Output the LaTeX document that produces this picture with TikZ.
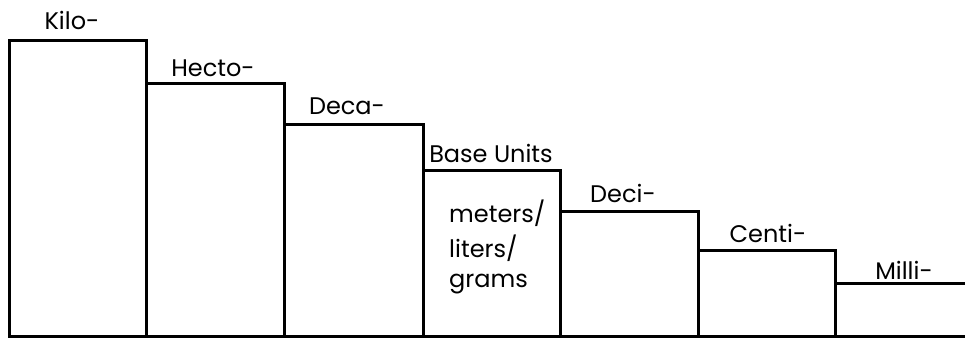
\documentclass[tikz,border=0pt]{standalone}
\usepackage{fontspec}
\setmainfont{Poppins}
\begin{document}
\begin{tikzpicture}[x=1pt,y=1pt,
  stepbox/.style={draw=black,line width=3pt,inner sep=0pt,outer sep=0pt,anchor=south west},
  lbl/.style={font=\fontsize{24}{33}\selectfont,anchor=base,inner sep=0pt}]
\useasboundingbox[fill=white] (0,0) rectangle (965,339);
% boxes: x positions 9,146,284,423,560,698,835,965 ; tops
\node[stepbox,minimum width=137pt,minimum height=296pt] (kilo) at (9,2) {};
\node[stepbox,minimum width=138pt,minimum height=253pt] (hecto) at (146,2) {};
\node[stepbox,minimum width=139pt,minimum height=212pt] (deca) at (284,2) {};
\node[stepbox,minimum width=137pt,minimum height=166pt] (base) at (423,2) {};
\node[stepbox,minimum width=138pt,minimum height=125pt] (deci) at (560,2) {};
\node[stepbox,minimum width=137pt,minimum height=86pt] (centi) at (698,2) {};
\node[stepbox,minimum width=150pt,minimum height=53pt] (milli) at (835,2) {};
% labels
\node[lbl] (tkilo) at (72,309) {Kilo-};
\node[lbl] (thecto) at (213,262) {Hecto-};
\node[lbl] (tdeca) at (347,224) {Deca-};
\node[lbl] (tbase) at (491,176) {Base Units};
\node[lbl] (tdeci) at (623,136) {Deci-};
\node[lbl] (tcenti) at (768,96) {Centi-};
\node[lbl] (tmilli) at (904,59) {Milli-};
\node[lbl,anchor=base west] (tm1) at (449,116) {meters/};
\node[lbl,anchor=base west] (tm2) at (449,81) {liters/};
\node[lbl,anchor=base west] (tm3) at (449,51) {grams};
\end{tikzpicture}
\end{document}
